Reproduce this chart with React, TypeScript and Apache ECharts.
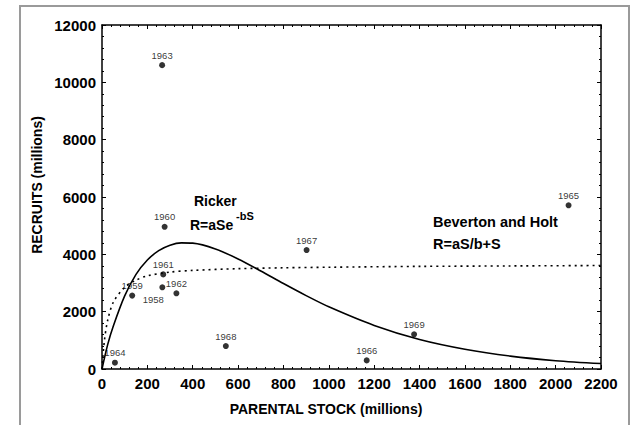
import React, { useEffect, useRef } from "react";
import * as echarts from "echarts";

// Observed stock-recruitment points
const years = ["1958", "1959", "1960", "1961", "1962", "1963", "1964", "1965", "1966", "1967", "1968", "1969"];
const parentalStock = [266, 133, 276, 270, 328, 265, 57, 2057, 1167, 902, 546, 1376];
const recruits = [2850, 2560, 4960, 3300, 2640, 10600, 220, 5710, 300, 4150, 800, 1210];

// Ricker curve
const rickerStock = [0, 25, 50, 100, 150, 200, 250, 300, 350, 400, 500, 600, 700, 800, 900, 1000, 1200, 1400, 1600, 1800, 2000, 2200];
const rickerRecruits = [0, 850, 1500, 2550, 3300, 3800, 4130, 4320, 4400, 4390, 4190, 3840, 3420, 2980, 2560, 2170, 1520, 1030, 690, 450, 290, 190];

// Beverton and Holt curve
const bhStock = [0, 10, 25, 50, 100, 150, 200, 300, 400, 600, 800, 1000, 1400, 1800, 2200];
const bhRecruits = [0, 950, 1700, 2330, 2850, 3100, 3250, 3380, 3440, 3500, 3530, 3550, 3580, 3595, 3610];

// Axis ticks
const xMin = 0, xMax = 2200, xStep = 200;
const yMin = 0, yMax = 12000, yStep = 2000;

const FONT = 'Arial, "Liberation Sans", sans-serif';

export default function App() {
  const ref = useRef<HTMLDivElement>(null);
  useEffect(() => {
    const chart = echarts.init(ref.current!, null, { renderer: "svg" });
    const axisCommon = {
      axisLine: { show: true, onZero: false, lineStyle: { color: "#000", width: 1.5 } },
      axisTick: { show: true, inside: true, length: 4, lineStyle: { color: "#000" } },
      minorTick: { show: true, splitNumber: 5, length: 2, lineStyle: { color: "#000" } },
      splitLine: { show: false },
    };
    const plain = (v: number) => String(v);
    chart.setOption({
      animation: false,
      backgroundColor: "#fff",
      grid: { left: 102, top: 25, right: 29, bottom: 56, containLabel: false },
      xAxis: [
        {
          type: "value", min: xMin, max: xMax, interval: xStep, position: "bottom",
          ...axisCommon,
          axisLabel: { color: "#000", fontFamily: FONT, fontWeight: "bold", fontSize: 15, margin: 7, formatter: plain },
        },
        {
          type: "value", min: xMin, max: xMax, interval: xStep, position: "top",
          ...axisCommon,
          axisLabel: { show: false },
        },
      ],
      yAxis: [
        {
          type: "value", min: yMin, max: yMax, interval: yStep, position: "left",
          ...axisCommon,
          axisLabel: { color: "#000", fontFamily: FONT, fontWeight: "bold", fontSize: 15, margin: 6, formatter: plain },
        },
        {
          type: "value", min: yMin, max: yMax, interval: yStep, position: "right",
          ...axisCommon,
          axisLabel: { show: false },
        },
      ],
      series: [
        {
          type: "line",
          name: "Ricker",
          data: rickerStock.map((s, i) => [s, rickerRecruits[i]]),
          smooth: 0.3,
          showSymbol: false,
          symbol: "none",
          lineStyle: { color: "#000", width: 1.6 },
          z: 3,
        },
        {
          type: "line",
          name: "Beverton and Holt",
          data: bhStock.map((s, i) => [s, bhRecruits[i]]),
          smooth: 0.3,
          showSymbol: false,
          symbol: "none",
          lineStyle: { color: "#000", width: 1.6, type: [2, 4] },
          z: 3,
        },
        {
          type: "scatter",
          symbol: "circle",
          symbolSize: 6,
          itemStyle: { color: "#000" },
          z: 4,
          label: {
            show: true, position: "top", distance: 2, formatter: "{b}",
            color: "#000", fontFamily: FONT, fontSize: 9.5,
          },
          data: years.map((y, i) => ({
            name: y,
            value: [parentalStock[i], recruits[i]],
            label: y === "1958" ? { position: "bottom", offset: [-9, 2] } : undefined,
          })),
        },
      ],
      graphic: [
        {
          type: "polyline",
          shape: { points: [[20, 425], [20, 6], [629, 6], [629, 425]] },
          style: { stroke: "#9a9a9a", lineWidth: 2, fill: "none" },
          silent: true,
        },
        {
          type: "text", x: 194, y: 201,
          style: { text: "Ricker", font: `bold 14px ${FONT}`, fill: "#000", verticalAlign: "middle" },
        },
        {
          type: "text", x: 190, y: 225,
          style: { text: "R=aSe", font: `bold 14px ${FONT}`, fill: "#000", verticalAlign: "middle" },
        },
        {
          type: "text", x: 236, y: 216,
          style: { text: "-bS", font: `bold 11px ${FONT}`, fill: "#000", verticalAlign: "middle" },
        },
        {
          type: "text", x: 433, y: 221.5,
          style: { text: "Beverton and Holt", font: `bold 14.5px ${FONT}`, fill: "#000", verticalAlign: "middle" },
        },
        {
          type: "text", x: 433, y: 243.5,
          style: { text: "R=aS/b+S", font: `bold 14.5px ${FONT}`, fill: "#000", verticalAlign: "middle" },
        },
        {
          type: "text", x: 326, y: 409,
          style: { text: "PARENTAL STOCK (millions)", font: `bold 14px ${FONT}`, fill: "#000", align: "center", verticalAlign: "middle" },
        },
        {
          type: "text", x: 37, y: 185, rotation: Math.PI / 2,
          style: { text: "RECRUITS (millions)", font: `bold 14px ${FONT}`, fill: "#000", align: "center", verticalAlign: "middle" },
        },
      ],
    });
    return () => chart.dispose();
  }, []);
  return (
    <div
      ref={ref}
      style={{ position: "fixed", left: 0, top: 0, width: 630, height: 425, background: "#fff" }}
    />
  );
}
